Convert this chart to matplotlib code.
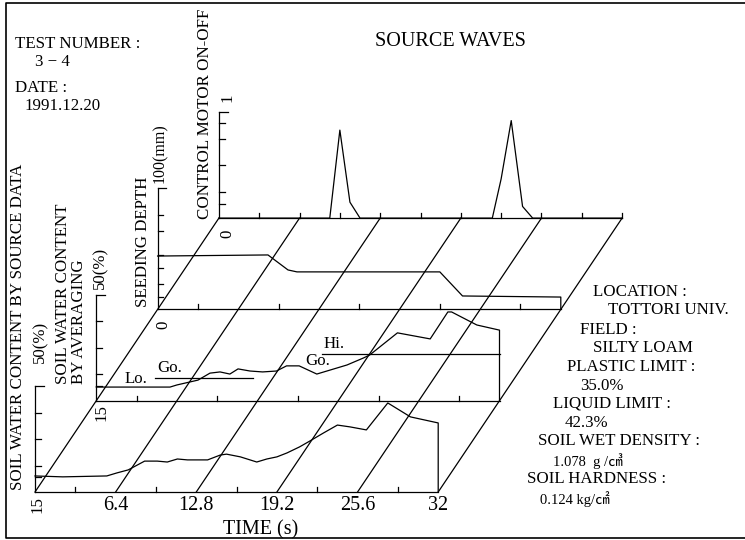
import numpy as np
import matplotlib.pyplot as plt
from matplotlib.transforms import Affine2D

plt.rcParams['font.family'] = ['Liberation Serif', 'Noto Sans CJK JP', 'DejaVu Sans']

# time axis (s)
time_major = [0, 6.4, 12.8, 19.2, 25.6, 32]
time_minor = [3.2, 9.6, 16.0, 22.4, 28.8]
time_labels = ['6.4', '12.8', '19.2', '25.6', '32']

# soil water content by source data (%)
src_t = [0, 2.2, 5.7, 6.5, 7.4, 8.7, 9.7, 10.5, 11.3, 12.1, 13.7, 14.7, 15.2, 16.3,
         17.6, 18.4, 19.2, 20.0, 21.0, 21.8, 22.9, 24.0, 25.0, 26.3, 28.0, 29.8, 32.0]
src_v = [20.3, 20.0, 20.3, 21.3, 22.3, 25.2, 25.2, 24.9, 25.9, 25.6, 25.6, 27.2, 27.5, 26.6,
         24.9, 25.9, 26.6, 27.9, 29.9, 31.8, 34.5, 37.1, 36.5, 35.5, 44.4, 39.8, 37.8]

# soil water content by averaging (%)
avg_t = [0, 5.85, 6.4, 8.07, 9.02, 9.82, 10.6, 11.25, 12.2, 13.2, 14.3, 15.1, 16.1, 17.5,
         19.1, 19.9, 21.2, 21.7, 23.9, 26.5, 27.9, 28.2, 30.2, 32.0]
avg_v = [19.5, 19.5, 20.2, 21.8, 24.1, 24.5, 23.8, 25.5, 24.8, 24.5, 24.8, 26.5, 26.5, 23.8,
         25.8, 26.8, 29.1, 30.1, 37.4, 35.4, 44.3, 44.3, 40.0, 38.3]
go_t = [4.66, 12.4]
go_v = [22.5, 22.5]
hi_t = [17.9, 32.0]
hi_v = [30.4, 30.4]

# seeding depth (mm)
depth_t = [0, 8.76, 10.35, 11.06, 22.4, 24.2, 32.0]
depth_v = [44.1, 45.0, 32.6, 31.0, 31.0, 11.1, 10.2]

# control motor on-off
motor_t = [0, 8.8, 9.6, 10.4, 11.2, 21.7, 22.4, 23.2, 24.1, 24.9, 32.0]
motor_v = [0, 0, 0.83, 0.15, 0, 0, 0.37, 0.92, 0.11, 0, 0]

# vertical axis ticks of each panel
water_ticks = [20, 23.75, 32.5, 41.25]
depth_ticks = [10, 21, 34, 45, 65, 78]
motor_ticks = [0.13, 0.25, 0.5, 0.75, 0.9]

# layout of the stacked panels (pixels)
X0, Y0 = 35, 492
DX, DY = 61.3, 91.3
PX_S = 12.6
PANELS = [(15, 50, 106), (15, 50, 106), (0, 100, 121), (0, 1, 106)]

fig = plt.figure(figsize=(7.45, 5.40), dpi=100)
ax = fig.add_axes([0, 0, 1, 1])
ax.set_xlim(0, 745)
ax.set_ylim(540, 0)
ax.axis('off')

LW = 0.9
K = 'black'


def panel(i):
    vmin, vmax, h = PANELS[i]
    return Affine2D().translate(0, -vmin).scale(PX_S, -h / (vmax - vmin)).translate(X0 + i * DX, Y0 - i * DY)


affs = [panel(i) for i in range(4)]
trs = [a + ax.transData for a in affs]

# frames of each panel
tick_sets = [water_ticks, water_ticks, depth_ticks, motor_ticks]
for i, (vmin, vmax, h) in enumerate(PANELS):
    tr = trs[i]
    s = h / (vmax - vmin)
    ax.plot([0, 32], [vmin, vmin], color=K, lw=LW, transform=tr)
    ax.plot([0, 0], [vmin, vmax], color=K, lw=LW, transform=tr)
    ax.plot([0, 0.7], [vmax, vmax], color=K, lw=LW, transform=tr)
    for v in tick_sets[i]:
        ax.plot([0, 0.45], [v, v], color=K, lw=LW, transform=tr)
    for t in time_minor:
        ax.plot([t, t], [vmin, vmin + 5 / s], color=K, lw=LW, transform=tr)
    if i == 3:
        for t in time_major[1:]:
            ax.plot([t, t], [vmin, vmin + 5 / s], color=K, lw=LW, transform=tr)

# oblique time lines
for t in time_major:
    p0 = affs[0].transform((t, PANELS[0][0]))
    p1 = affs[3].transform((t, PANELS[3][0]))
    ax.plot([p0[0], p1[0]], [p0[1], p1[1]], color=K, lw=LW)

# data curves (closed down to the baseline at the right end)
ax.plot(src_t + [32], src_v + [15], color=K, lw=LW, transform=trs[0])
ax.plot(avg_t + [32], avg_v + [15], color=K, lw=LW, transform=trs[1])
ax.plot(go_t, go_v, color=K, lw=LW, transform=trs[1])
ax.plot(hi_t, hi_v, color=K, lw=LW, transform=trs[1])
ax.plot(depth_t + [32], depth_v + [0], color=K, lw=LW, transform=trs[2])
ax.plot(motor_t, motor_v, color=K, lw=LW, transform=trs[3])

FS = 12.2

# time tick labels
for t, lab in zip(time_major[1:], time_labels):
    x, y = affs[0].transform((t, 15))
    ax.text(x, y + 13, lab, fontsize=14.5, ha='center', va='center')
ax.text(261, 530, 'TIME (s)', fontsize=14.5, ha='center', va='center')

# rotated axis labels
ax.text(38, 505, '15', fontsize=FS, rotation=90, ha='center', va='center')
ax.text(102, 413, '15', fontsize=FS, rotation=90, ha='center', va='center')
ax.text(163, 325, '0', fontsize=FS, rotation=90, ha='center', va='center')
ax.text(227, 234, '0', fontsize=FS, rotation=90, ha='center', va='center')
ax.text(228, 98, '1', fontsize=FS, rotation=90, ha='center', va='center')
ax.text(40, 342, '50(%)', fontsize=FS, rotation=90, ha='center', va='center')
ax.text(100, 268, '50(%)', fontsize=FS, rotation=90, ha='center', va='center')
ax.text(160, 183, '100(mm)', fontsize=11.5, rotation=90, ha='center', va='bottom')
ax.text(18, 490, 'SOIL WATER CONTENT BY SOURCE DATA', fontsize=FS, rotation=90, ha='center', va='bottom')
ax.text(71, 384, 'SOIL WATER CONTENT\nBY AVERAGING', fontsize=FS, rotation=90, ha='center', va='bottom',
        multialignment='left', linespacing=1.0)
ax.text(143, 307, 'SEEDING DEPTH', fontsize=FS, rotation=90, ha='center', va='bottom')
ax.text(205, 219, 'CONTROL MOTOR ON-OFF', fontsize=FS, rotation=90, ha='center', va='bottom')

# level labels on the averaging panel
ax.text(136, 379, 'Lo.', fontsize=FS, ha='center', va='center')
ax.text(170, 368, 'Go.', fontsize=FS, ha='center', va='center')
ax.text(334, 344, 'Hi.', fontsize=FS, ha='center', va='center')
ax.text(318, 361, 'Go.', fontsize=FS, ha='center', va='center')

# header texts
ax.text(450, 41, 'SOURCE WAVES', fontsize=14.5, ha='center', va='center')
ax.text(15, 44, 'TEST NUMBER :', fontsize=FS, ha='left', va='center')
ax.text(35, 62, '3 − 4', fontsize=FS, ha='left', va='center')
ax.text(15, 88, 'DATE :', fontsize=FS, ha='left', va='center')
ax.text(25, 106, '1991.12.20', fontsize=FS, ha='left', va='center')

# site information
info = [
    (593, 292, 'LOCATION :', FS),
    (608, 310, 'TOTTORI UNIV.', FS),
    (580, 330, 'FIELD :', FS),
    (593, 348, 'SILTY LOAM', FS),
    (567, 367, 'PLASTIC LIMIT :', FS),
    (580, 386, '35.0%', FS),
    (553, 404, 'LIQUID LIMIT :', FS),
    (565, 423, '42.3%', FS),
    (538, 441, 'SOIL WET DENSITY :', FS),
    (553, 461, '1.078  g /㎤', 10.5),
    (527, 479, 'SOIL HARDNESS :', FS),
    (540, 499, '0.124 kg/㎠', 10.5),
]
for x, y, s, fs in info:
    ax.text(x, y, s, fontsize=fs, ha='left', va='center')

# outer frame
ax.plot([760, 6, 6, 760], [3, 3, 538, 538], color=K, lw=1.2, clip_on=False)

fig.savefig('out.png', dpi=100)
